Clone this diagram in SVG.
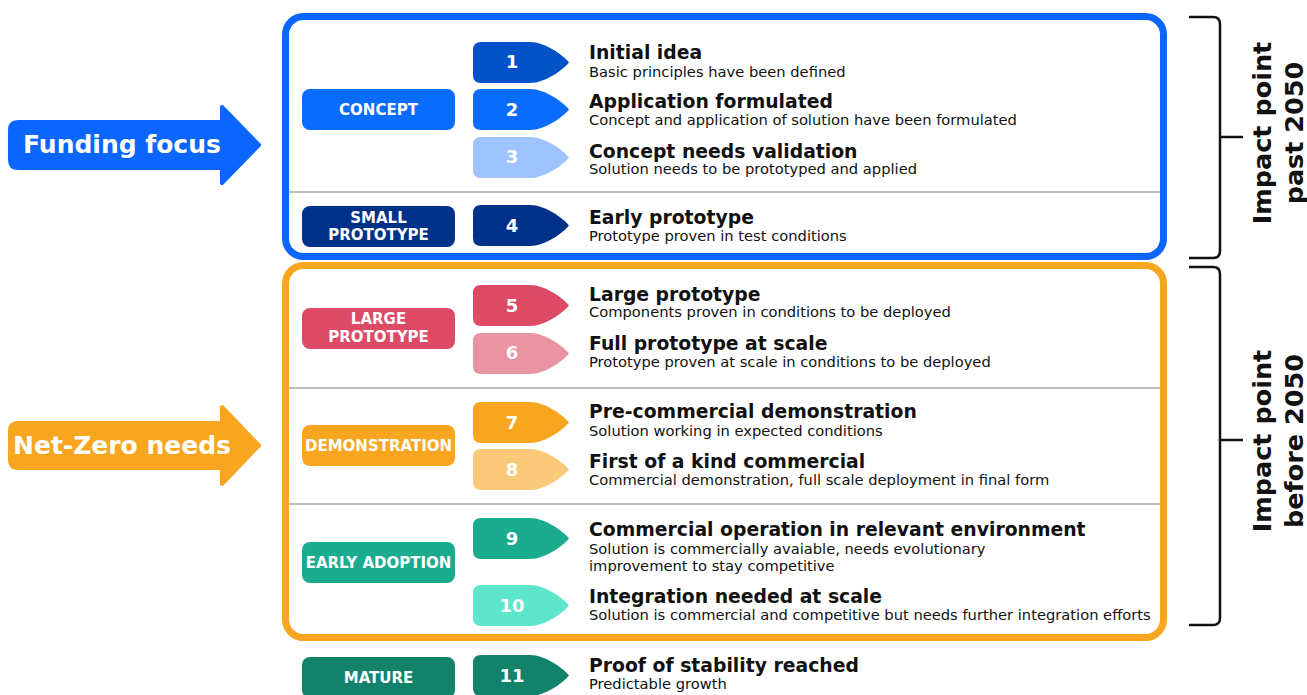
<svg xmlns="http://www.w3.org/2000/svg" xmlns:xlink="http://www.w3.org/1999/xlink" width="1307" height="695" viewBox="0 0 1307 695">
<style>
.t{font-family:"DejaVu Sans","Liberation Sans",sans-serif;fill:#111}
.title{font-weight:bold;font-size:18.8px}
.sub{font-size:14.7px}
.num{font-family:"DejaVu Sans","Liberation Sans",sans-serif;font-weight:bold;font-size:18px;fill:#fff;text-anchor:middle}
.pill{font-family:"DejaVu Sans","Liberation Sans",sans-serif;font-weight:bold;font-size:15px;fill:#fff;text-anchor:middle}
.big{font-family:"DejaVu Sans","Liberation Sans",sans-serif;font-weight:bold;font-size:25px;fill:#fff}
.side{font-family:"DejaVu Sans","Liberation Sans",sans-serif;font-weight:bold;font-size:25.5px;fill:#111;text-anchor:middle}
.div{stroke:#aaaaaa;stroke-width:1.5}
.br{fill:none;stroke:#111;stroke-width:2.5}
</style>
<defs>
<path id="badge" d="M8,0 H57 C72,0 90,13 96,20.5 C90,28 72,41 57,41 H8 Q0,41 0,33 V8 Q0,0 8,0 Z"/>
</defs>

<g id="funding-focus">
<path d="M18,122 L222,122 L222,107 L259,145 L222,183 L222,168 L18,168 Q10,168 10,160 L10,130 Q10,122 18,122 Z" fill="#0A66FF" stroke="#0A66FF" stroke-width="4" stroke-linejoin="round"/>
<text class="big" x="23" y="153">Funding focus</text>
</g>

<g id="net-zero-needs">
<path d="M18,423 L222,423 L222,407 L259,445.5 L222,484 L222,468 L18,468 Q10,468 10,460 L10,431 Q10,423 18,423 Z" fill="#F8A61F" stroke="#F8A61F" stroke-width="4" stroke-linejoin="round"/>
<text class="big" x="13" y="454">Net-Zero needs</text>
</g>

<g id="box-past">
<rect x="285.5" y="16.5" width="878" height="240" rx="18" fill="#fff" stroke="#0A66FF" stroke-width="7"/>
<line class="div" x1="289" y1="192" x2="1160" y2="192"/>
</g>

<g id="box-before">
<rect x="285.5" y="265.5" width="878" height="372" rx="18" fill="#fff" stroke="#F8A61F" stroke-width="7"/>
<line class="div" x1="289" y1="388" x2="1160" y2="388"/>
<line class="div" x1="289" y1="504" x2="1160" y2="504"/>
</g>

<g id="cat-concept">
<rect x="302" y="89" width="153" height="41" rx="8" fill="#0A6CFF"/>
<text class="pill" x="378.5" y="115">CONCEPT</text>
</g>
<g id="cat-small-prototype">
<rect x="302" y="206" width="153" height="41" rx="8" fill="#003189"/>
<text class="pill" x="378.5" y="223">SMALL</text>
<text class="pill" x="378.5" y="240">PROTOTYPE</text>
</g>
<g id="cat-large-prototype">
<rect x="302" y="308" width="153" height="41" rx="8" fill="#DC4A66"/>
<text class="pill" x="378.5" y="324">LARGE</text>
<text class="pill" x="378.5" y="342">PROTOTYPE</text>
</g>
<g id="cat-demonstration">
<rect x="302" y="425" width="153" height="41" rx="8" fill="#F8A61F"/>
<text class="pill" x="378.5" y="450.5">DEMONSTRATION</text>
</g>
<g id="cat-early-adoption">
<rect x="302" y="542" width="153" height="41" rx="8" fill="#1BAB8F"/>
<text class="pill" x="378.5" y="567.5">EARLY ADOPTION</text>
</g>
<g id="cat-mature">
<rect x="302" y="657" width="153" height="41" rx="8" fill="#13826B"/>
<text class="pill" x="378.5" y="683">MATURE</text>
</g>

<g id="step-1">
<use xlink:href="#badge" href="#badge" x="473" y="42" fill="#0452C8"/>
<text class="num" x="512" y="68">1</text>
<text class="t title" x="589" y="59">Initial idea</text>
<text class="t sub" x="589" y="77">Basic principles have been defined</text>
</g>
<g id="step-2">
<use xlink:href="#badge" href="#badge" x="473" y="89" fill="#0A6CFF"/>
<text class="num" x="512" y="116">2</text>
<text class="t title" x="589" y="108">Application formulated</text>
<text class="t sub" x="589" y="125">Concept and application of solution have been formulated</text>
</g>
<g id="step-3">
<use xlink:href="#badge" href="#badge" x="473" y="137" fill="#9EC3FF"/>
<text class="num" x="512" y="163">3</text>
<text class="t title" x="589" y="158">Concept needs validation</text>
<text class="t sub" x="589" y="174">Solution needs to be prototyped and applied</text>
</g>
<g id="step-4">
<use xlink:href="#badge" href="#badge" x="473" y="205" fill="#003189"/>
<text class="num" x="512" y="232">4</text>
<text class="t title" x="589" y="224">Early prototype</text>
<text class="t sub" x="589" y="241">Prototype proven in test conditions</text>
</g>
<g id="step-5">
<use xlink:href="#badge" href="#badge" x="473" y="285" fill="#DC4A66"/>
<text class="num" x="512" y="312">5</text>
<text class="t title" x="589" y="301">Large prototype</text>
<text class="t sub" x="589" y="317">Components proven in conditions to be deployed</text>
</g>
<g id="step-6">
<use xlink:href="#badge" href="#badge" x="473" y="333" fill="#EA93A2"/>
<text class="num" x="512" y="359">6</text>
<text class="t title" x="589" y="350">Full prototype at scale</text>
<text class="t sub" x="589" y="367">Prototype proven at scale in conditions to be deployed</text>
</g>
<g id="step-7">
<use xlink:href="#badge" href="#badge" x="473" y="402" fill="#F8A61F"/>
<text class="num" x="512" y="429">7</text>
<text class="t title" x="589" y="418">Pre-commercial demonstration</text>
<text class="t sub" x="589" y="436">Solution working in expected conditions</text>
</g>
<g id="step-8">
<use xlink:href="#badge" href="#badge" x="473" y="449" fill="#FBC97A"/>
<text class="num" x="512" y="476">8</text>
<text class="t title" x="589" y="468">First of a kind commercial</text>
<text class="t sub" x="589" y="485">Commercial demonstration, full scale deployment in final form</text>
</g>
<g id="step-9">
<use xlink:href="#badge" href="#badge" x="473" y="518" fill="#1BAB8F"/>
<text class="num" x="512" y="545">9</text>
<text class="t title" x="589" y="536">Commercial operation in relevant environment</text>
<text class="t sub" x="589" y="554">Solution is commercially avaiable, needs evolutionary</text>
<text class="t sub" x="589" y="571">improvement to stay competitive</text>
</g>
<g id="step-10">
<use xlink:href="#badge" href="#badge" x="473" y="585" fill="#5EE6CD"/>
<text class="num" x="512" y="612">10</text>
<text class="t title" x="589" y="603">Integration needed at scale</text>
<text class="t sub" x="589" y="620">Solution is commercial and competitive but needs further integration efforts</text>
</g>
<g id="step-11">
<use xlink:href="#badge" href="#badge" x="473" y="655" fill="#13826B"/>
<text class="num" x="512" y="682">11</text>
<text class="t title" x="589" y="672">Proof of stability reached</text>
<text class="t sub" x="589" y="689">Predictable growth</text>
</g>

<g id="connectors">
<path class="br" d="M1189,17 L1213,17 Q1220,17 1220,24 L1220,251 Q1220,258 1213,258 L1189,258 M1220,137 L1243,137"/>
<path class="br" d="M1189,267 L1213,267 Q1220,267 1220,274 L1220,618 Q1220,625 1213,625 L1189,625 M1220,440 L1243,440"/>
</g>

<g id="label-past">
<text class="side" transform="translate(1271,133) rotate(-90)">Impact point</text>
<text class="side" transform="translate(1303,133) rotate(-90)">past 2050</text>
</g>
<g id="label-before">
<text class="side" transform="translate(1271,441) rotate(-90)">Impact point</text>
<text class="side" transform="translate(1303,441) rotate(-90)">before 2050</text>
</g>
</svg>
